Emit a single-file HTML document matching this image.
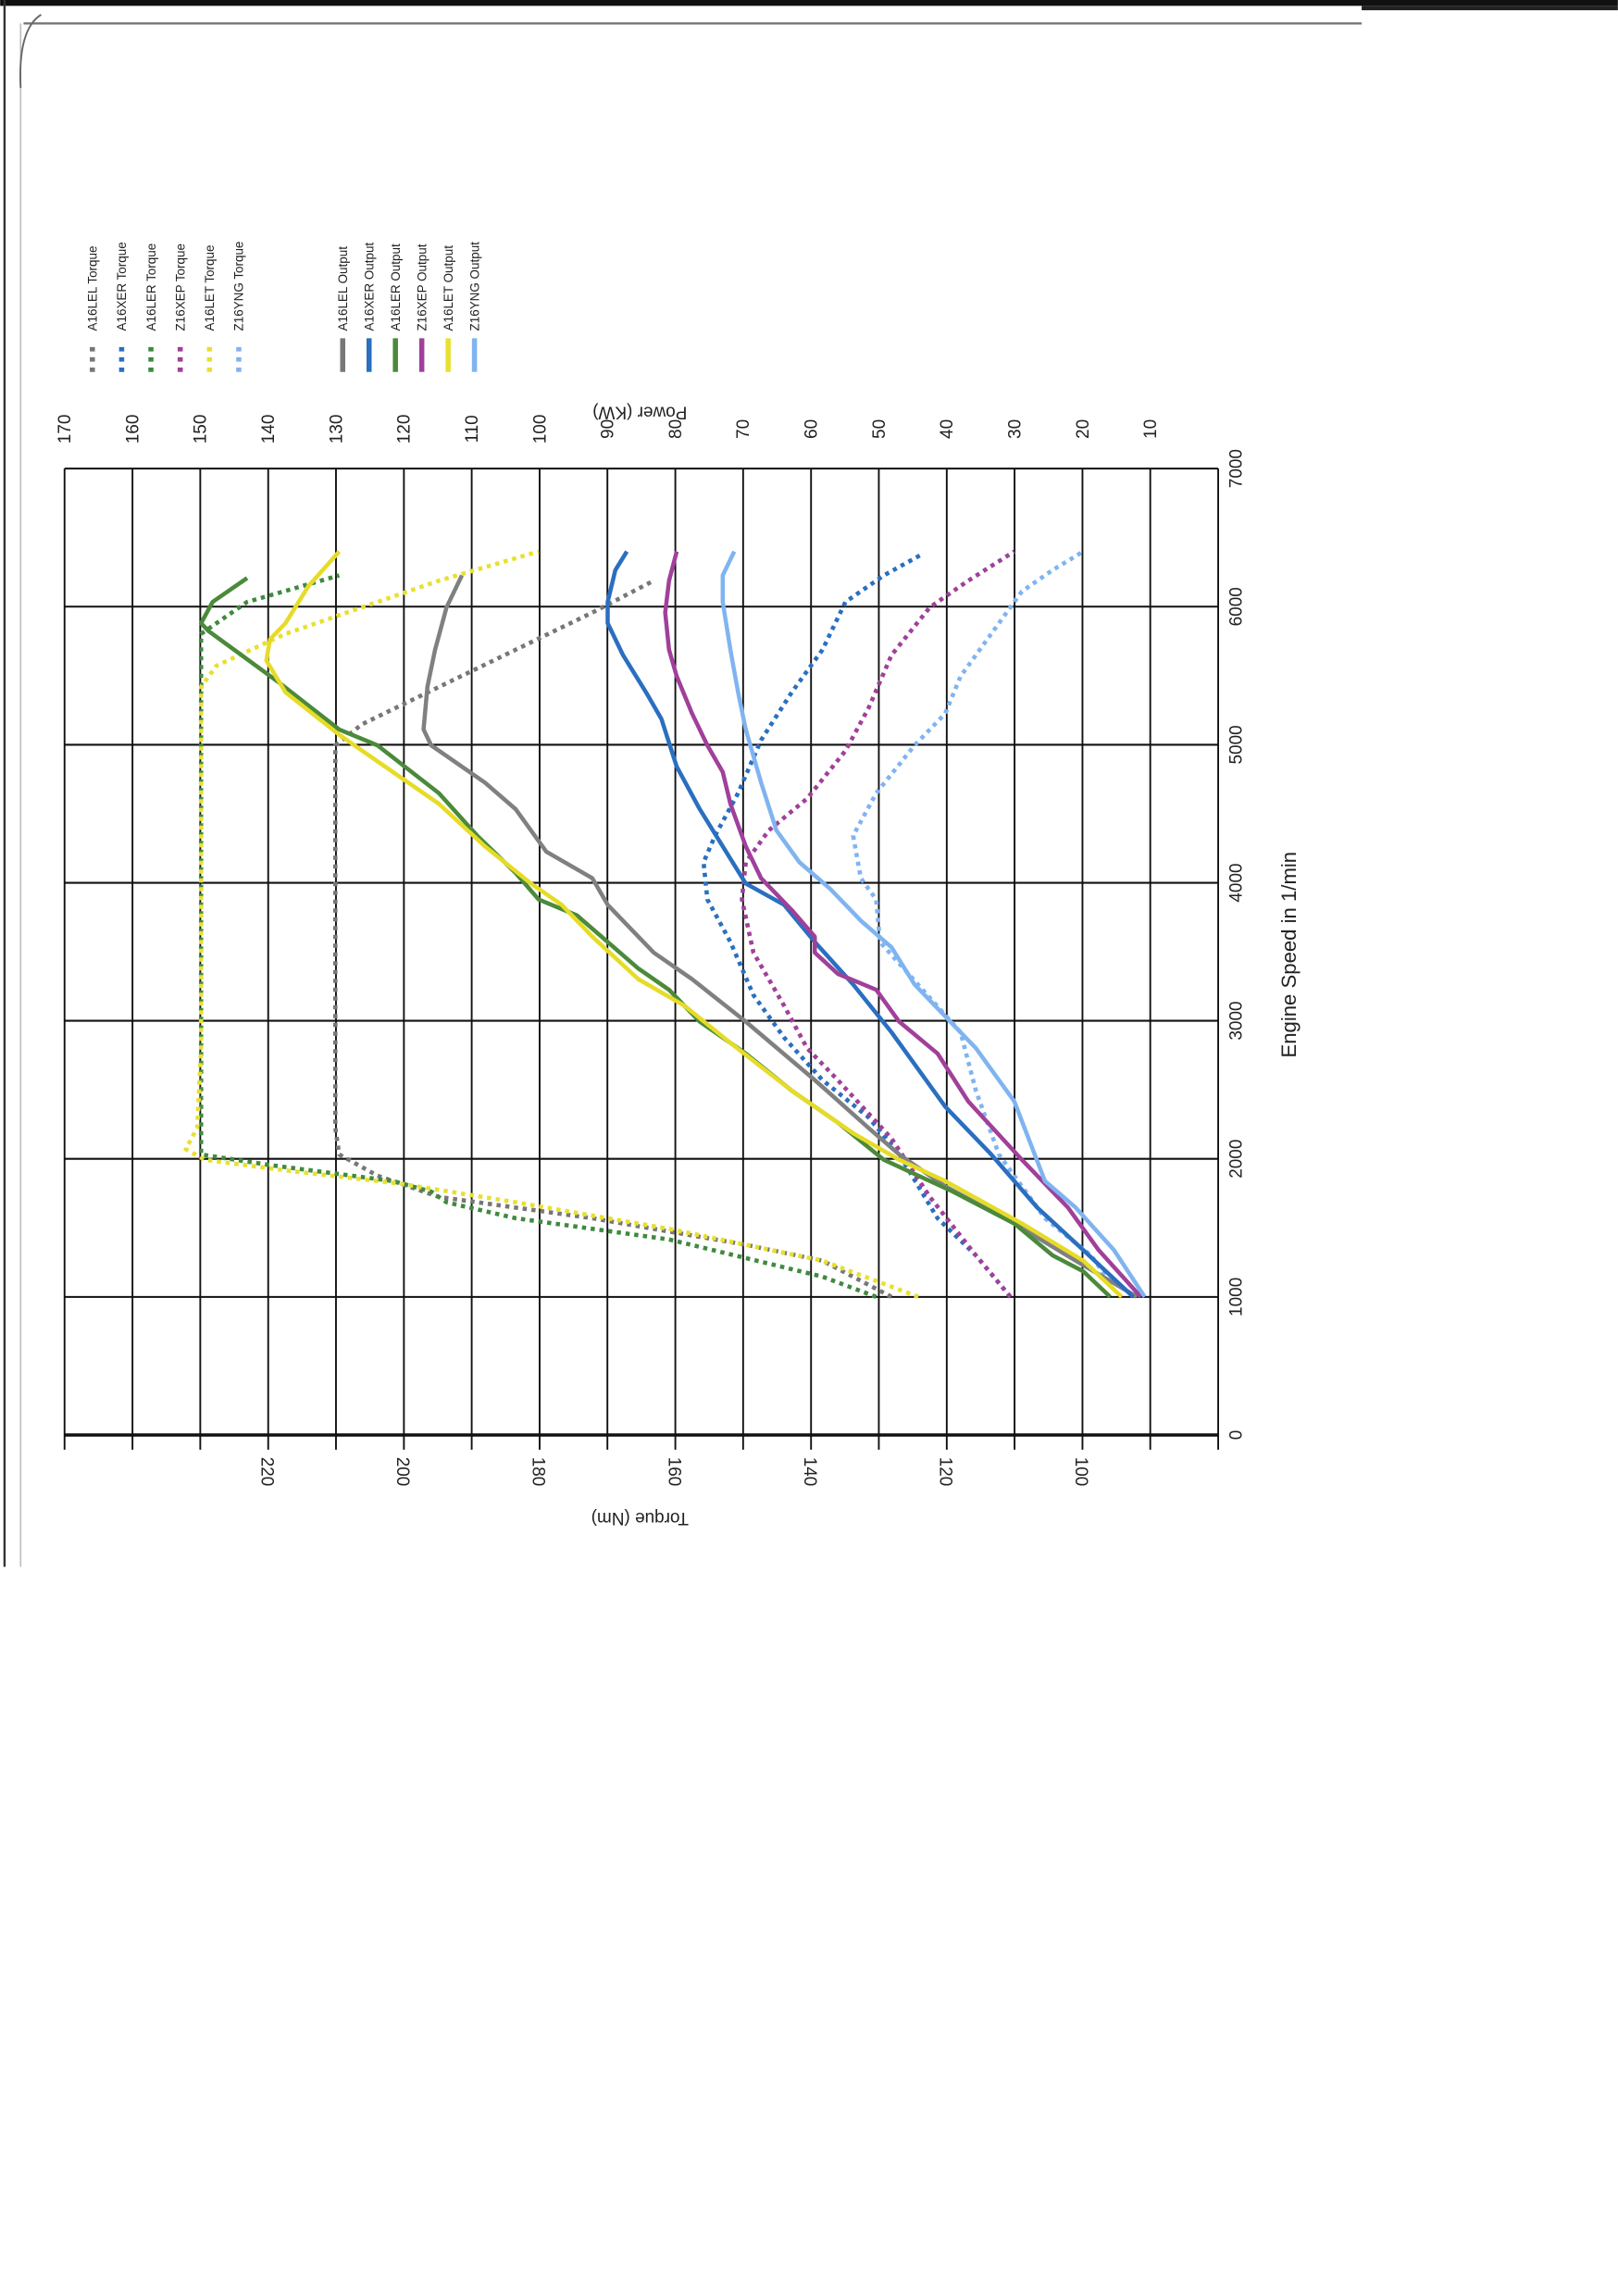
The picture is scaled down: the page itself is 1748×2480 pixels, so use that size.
<!DOCTYPE html>
<html><head><meta charset="utf-8"><style>
html,body{margin:0;padding:0;background:#fff}
svg{display:block}
text{font-family:"Liberation Sans",Arial,sans-serif;fill:#222}
</style></head><body>
<svg xmlns="http://www.w3.org/2000/svg" width="1748" height="2480" viewBox="0 0 1105 1568">
<rect width="1105" height="1568" fill="#fff"/>
<rect x="0" y="0" width="1105" height="4" fill="#111"/>
<rect x="930" y="4" width="175" height="3" fill="#222"/>
<line x1="16" y1="16" x2="930" y2="16" stroke="#777" stroke-width="1.5"/>
<line x1="3" y1="0" x2="3" y2="1070" stroke="#333" stroke-width="1.5"/>
<line x1="14" y1="16" x2="14" y2="1070" stroke="#bbb" stroke-width="1"/>
<path d="M14 60 Q12 20 28 10" fill="none" stroke="#666" stroke-width="1.2"/>

<g stroke="#111" stroke-width="1.3">
<line x1="44" y1="320" x2="832" y2="320"/>
<line x1="44" y1="414.3" x2="832" y2="414.3"/>
<line x1="44" y1="508.6" x2="832" y2="508.6"/>
<line x1="44" y1="602.9" x2="832" y2="602.9"/>
<line x1="44" y1="697.1" x2="832" y2="697.1"/>
<line x1="44" y1="791.4" x2="832" y2="791.4"/>
<line x1="44" y1="885.7" x2="832" y2="885.7"/>
</g>
<line x1="44" y1="980" x2="832" y2="980" stroke="#111" stroke-width="2.2"/>
<g stroke="#111" stroke-width="1.2">
<line x1="44" y1="320" x2="44" y2="990"/>
<line x1="90.4" y1="320" x2="90.4" y2="990"/>
<line x1="136.7" y1="320" x2="136.7" y2="990"/>
<line x1="183.1" y1="320" x2="183.1" y2="990"/>
<line x1="229.4" y1="320" x2="229.4" y2="990"/>
<line x1="275.8" y1="320" x2="275.8" y2="990"/>
<line x1="322.1" y1="320" x2="322.1" y2="990"/>
<line x1="368.5" y1="320" x2="368.5" y2="990"/>
<line x1="414.8" y1="320" x2="414.8" y2="990"/>
<line x1="461.2" y1="320" x2="461.2" y2="990"/>
<line x1="507.5" y1="320" x2="507.5" y2="990"/>
<line x1="553.9" y1="320" x2="553.9" y2="990"/>
<line x1="600.2" y1="320" x2="600.2" y2="990"/>
<line x1="646.6" y1="320" x2="646.6" y2="990"/>
<line x1="692.9" y1="320" x2="692.9" y2="990"/>
<line x1="739.3" y1="320" x2="739.3" y2="990"/>
<line x1="785.6" y1="320" x2="785.6" y2="990"/>
<line x1="832" y1="320" x2="832" y2="990"/>
</g>

<g font-size="12" text-anchor="middle">
<text transform="translate(48,293) rotate(-90)">170</text>
<text transform="translate(94.4,293) rotate(-90)">160</text>
<text transform="translate(140.7,293) rotate(-90)">150</text>
<text transform="translate(187.1,293) rotate(-90)">140</text>
<text transform="translate(233.4,293) rotate(-90)">130</text>
<text transform="translate(279.8,293) rotate(-90)">120</text>
<text transform="translate(326.1,293) rotate(-90)">110</text>
<text transform="translate(372.5,293) rotate(-90)">100</text>
<text transform="translate(418.8,293) rotate(-90)">90</text>
<text transform="translate(465.2,293) rotate(-90)">80</text>
<text transform="translate(511.5,293) rotate(-90)">70</text>
<text transform="translate(557.9,293) rotate(-90)">60</text>
<text transform="translate(604.2,293) rotate(-90)">50</text>
<text transform="translate(650.6,293) rotate(-90)">40</text>
<text transform="translate(696.9,293) rotate(-90)">30</text>
<text transform="translate(743.3,293) rotate(-90)">20</text>
<text transform="translate(789.6,293) rotate(-90)">10</text>
</g>
<text transform="translate(437,278) rotate(180)" font-size="12" text-anchor="middle">Power (KW)</text>

<g font-size="12" text-anchor="middle">
<text transform="translate(178.5,1005) rotate(90)">220</text>
<text transform="translate(271.2,1005) rotate(90)">200</text>
<text transform="translate(363.9,1005) rotate(90)">180</text>
<text transform="translate(456.6,1005) rotate(90)">160</text>
<text transform="translate(549.3,1005) rotate(90)">140</text>
<text transform="translate(642,1005) rotate(90)">120</text>
<text transform="translate(734.7,1005) rotate(90)">100</text>
</g>
<text transform="translate(437,1033) rotate(180)" font-size="12" text-anchor="middle">Torque (Nm)</text>

<g font-size="12" text-anchor="middle">
<text transform="translate(848,980) rotate(-90)">0</text>
<text transform="translate(848,885.7) rotate(-90)">1000</text>
<text transform="translate(848,791.4) rotate(-90)">2000</text>
<text transform="translate(848,697.1) rotate(-90)">3000</text>
<text transform="translate(848,602.9) rotate(-90)">4000</text>
<text transform="translate(848,508.6) rotate(-90)">5000</text>
<text transform="translate(848,414.3) rotate(-90)">6000</text>
<text transform="translate(848,320) rotate(-90)">7000</text>
</g>
<text transform="translate(885,652) rotate(-90)" font-size="14" text-anchor="middle">Engine Speed in 1/min</text>

<g font-size="8.5">
<text transform="translate(66,226) rotate(-90)">A16LEL Torque</text>
<text transform="translate(86,226) rotate(-90)">A16XER Torque</text>
<text transform="translate(106,226) rotate(-90)">A16LER Torque</text>
<text transform="translate(126,226) rotate(-90)">Z16XEP Torque</text>
<text transform="translate(146,226) rotate(-90)">A16LET Torque</text>
<text transform="translate(166,226) rotate(-90)">Z16YNG Torque</text>
<text transform="translate(237,226) rotate(-90)">A16LEL Output</text>
<text transform="translate(255,226) rotate(-90)">A16XER Output</text>
<text transform="translate(273,226) rotate(-90)">A16LER Output</text>
<text transform="translate(291,226) rotate(-90)">Z16XEP Output</text>
<text transform="translate(309,226) rotate(-90)">A16LET Output</text>
<text transform="translate(327,226) rotate(-90)">Z16YNG Output</text>
</g>
<g stroke-width="3.5" stroke-dasharray="3 4">
<line x1="63" y1="254" x2="63" y2="236" stroke="#777"/>
<line x1="83" y1="254" x2="83" y2="236" stroke="#2a6fc0"/>
<line x1="103" y1="254" x2="103" y2="236" stroke="#3f8a3f"/>
<line x1="123" y1="254" x2="123" y2="236" stroke="#a0409a"/>
<line x1="143" y1="254" x2="143" y2="236" stroke="#e8e030"/>
<line x1="163" y1="254" x2="163" y2="236" stroke="#80b4f0"/>
</g>
<g stroke-width="3.5">
<line x1="234" y1="254" x2="234" y2="231" stroke="#777"/>
<line x1="252" y1="254" x2="252" y2="231" stroke="#2a6fc0"/>
<line x1="270" y1="254" x2="270" y2="231" stroke="#4a8a3a"/>
<line x1="288" y1="254" x2="288" y2="231" stroke="#a0409a"/>
<line x1="306" y1="254" x2="306" y2="231" stroke="#e8e030"/>
<line x1="324" y1="254" x2="324" y2="231" stroke="#80b4f0"/>
</g>

<g transform="matrix(0.524 0 0 0.3628 37.7 353.05)" fill="none" stroke-linejoin="round" stroke-linecap="butt">
<g stroke-width="4.6" stroke-dasharray="4.5 5">
<polyline vector-effect="non-scaling-stroke" stroke="#777" points="1090,1468 1000,1400 900,1370 700,1320 500,1280 420,1240 370,1200 365,1150 365,430 400,390 500,320 600,250 700,180 780,120"/>
<polyline vector-effect="non-scaling-stroke" stroke="#3f8a3f" points="1070,1468 1000,1430 800,1360 600,1320 510,1290 490,1270 440,1250 280,1220 190,1200 190,220 250,160 370,110"/>
<polyline vector-effect="non-scaling-stroke" stroke="#e8e030" points="1125,1468 1000,1400 800,1340 600,1290 450,1255 300,1230 195,1210 170,1190 185,1150 190,1000 190,320 210,280 300,220 400,170 500,120 630,65"/>
<polyline vector-effect="non-scaling-stroke" stroke="#2a6fc0" points="1245,1468 1200,1390 1150,1320 1100,1200 1060,1130 1000,1060 950,980 910,900 880,800 850,720 845,650 860,600 890,520 920,420 960,330 1000,250 1030,160 1080,110 1130,70"/>
<polyline vector-effect="non-scaling-stroke" stroke="#a0409a" points="1245,1468 1200,1390 1140,1280 1090,1170 1020,1060 980,1000 950,920 910,820 895,720 900,650 930,590 980,530 1030,440 1060,360 1090,260 1140,170 1190,120 1250,65"/>
<polyline vector-effect="non-scaling-stroke" stroke="#80b4f0" points="1375,1440 1350,1390 1290,1320 1230,1200 1200,1080 1180,970 1075,800 1070,720 1050,680 1040,600 1070,520 1120,430 1160,370 1180,300 1230,200 1260,140 1300,100 1340,65"/>
</g>
<g stroke-width="4.5">
<polyline vector-effect="non-scaling-stroke" stroke="#808080" points="1410,1468 1330,1400 1250,1330 1160,1260 1100,1200 1060,1150 990,1060 900,950 830,870 780,820 720,730 700,680 640,630 600,550 560,500 490,430 480,400 485,320 495,250 510,170 530,110"/>
<polyline vector-effect="non-scaling-stroke" stroke="#4a8a3a" points="1375,1468 1340,1420 1300,1390 1250,1330 1170,1270 1080,1210 1020,1140 960,1080 900,1010 840,950 800,890 760,850 720,800 680,750 630,720 600,670 550,600 500,520 420,430 370,400 290,310 200,215 190,200 205,160 250,115"/>
<polyline vector-effect="non-scaling-stroke" stroke="#e6dc28" points="1390,1468 1340,1400 1260,1330 1160,1250 1100,1210 1040,1160 960,1080 880,990 820,920 760,870 700,790 660,730 620,690 560,620 500,540 420,460 370,410 300,330 275,270 280,230 300,200 330,130 370,65"/>
<polyline vector-effect="non-scaling-stroke" stroke="#2a6fc0" points="1405,1468 1340,1380 1280,1300 1220,1200 1160,1110 1090,970 1040,880 990,800 950,730 900,690 870,620 840,550 810,470 790,380 770,330 740,260 720,200 720,160 730,100 745,65"/>
<polyline vector-effect="non-scaling-stroke" stroke="#a0409a" points="1415,1468 1360,1380 1320,1300 1260,1210 1190,1100 1150,1010 1100,950 1070,890 1020,860 990,820 990,790 960,740 920,680 900,620 880,540 870,480 850,430 830,370 810,300 800,250 795,180 800,120 810,65"/>
<polyline vector-effect="non-scaling-stroke" stroke="#80b4f0" points="1420,1468 1380,1380 1330,1300 1290,1250 1250,1100 1200,1000 1160,940 1120,880 1090,810 1050,760 1010,700 970,650 940,590 920,500 900,400 890,330 880,250 870,160 870,110 885,65"/>
</g>
</g>
</svg>
</body></html>
